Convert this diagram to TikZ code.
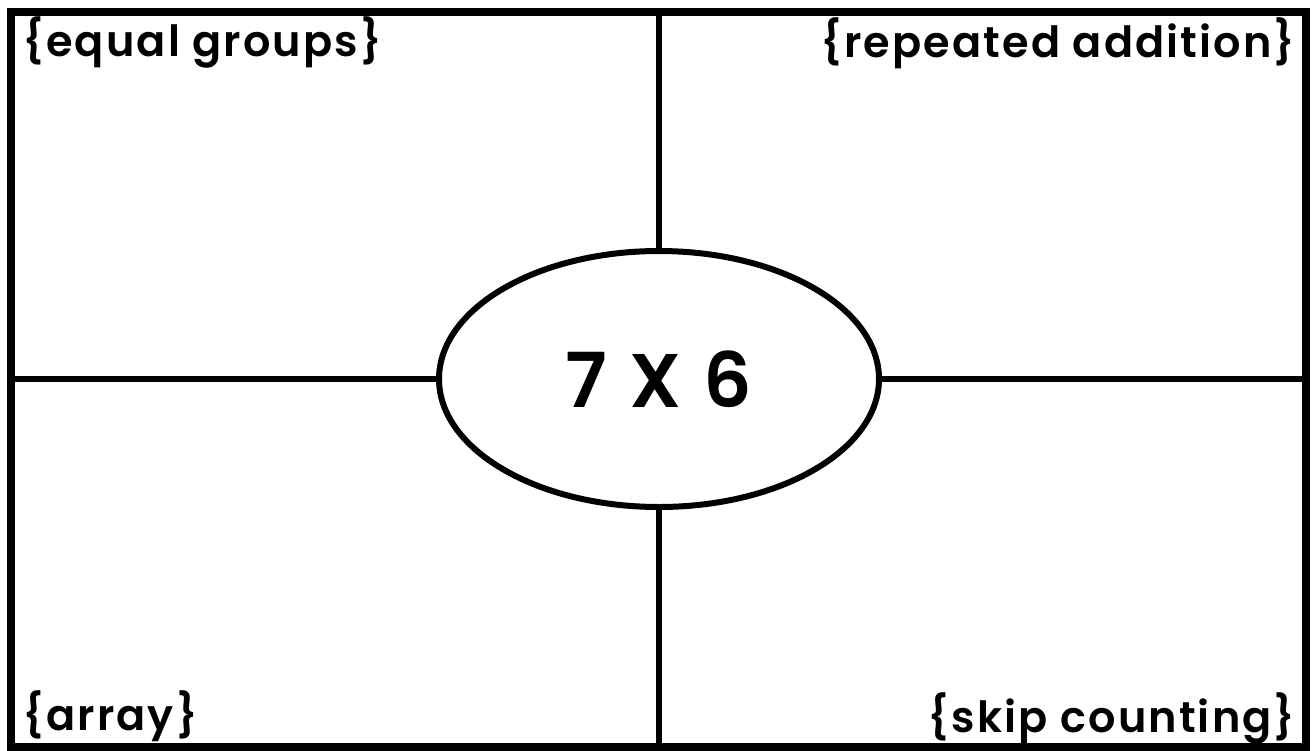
\documentclass[tikz,border=0pt]{standalone}
\usepackage{fontspec}
\setmainfont{Poppins}[BoldFont={Poppins SemiBold}]
\usetikzlibrary{shapes.geometric}
\tikzset{
  frameline/.style={line width=8pt, line cap=rect},
  divline/.style={line width=6pt},
  lbl/.style={font=\fontsize{43}{50}\selectfont\bfseries\addfontfeatures{LetterSpace=5}, inner sep=0pt},
  center/.style={ellipse, draw, line width=6pt, minimum width=440pt, minimum height=256pt, inner sep=0pt, font=\fontsize{76}{90}\selectfont\bfseries}
}
\begin{document}
\begin{tikzpicture}[x=1pt,y=-1pt]
\useasboundingbox (0,0) rectangle (1313,750);
\fill[white] (0,0) rectangle (1313,750);
\draw[frameline] (11,12) rectangle (1306,747);
\coordinate (T) at (659,12);
\coordinate (B) at (659,747);
\coordinate (L) at (11,379);
\coordinate (R) at (1306,379);
\node[center] (ell) at (659,379) {7\hspace{22pt}X\hspace{22pt}6};
\draw[divline] (T) -- (ell.north);
\draw[divline] (ell.south) -- (B);
\draw[divline] (L) -- (ell.west);
\draw[divline] (ell.east) -- (R);
\node[lbl, anchor=base west] (eq) at (22,56) {\{equal groups\}};
\node[lbl, anchor=base east] (rep) at (1296,57) {\{repeated addition\}};
\node[lbl, anchor=base west] (arr) at (22,730) {\{array\}};
\node[lbl, anchor=base east] (skip) at (1296,732) {\{skip counting\}};
\end{tikzpicture}
\end{document}
